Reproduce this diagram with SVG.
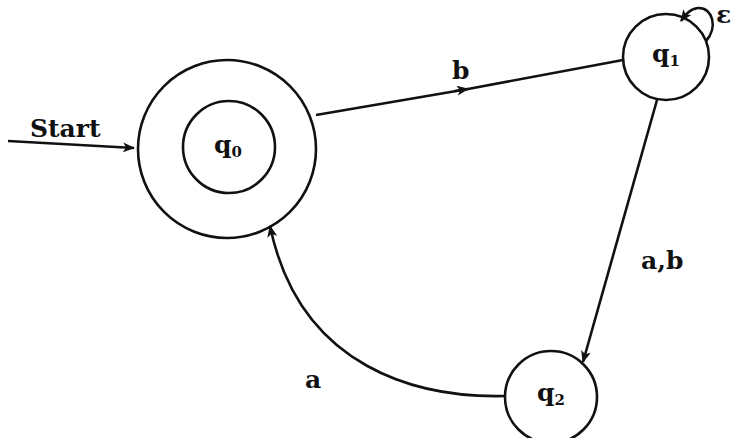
<svg xmlns="http://www.w3.org/2000/svg" width="734" height="438" viewBox="0 0 734 438">
<defs>
<style>
.st{fill:none;stroke:#111;stroke-width:2.6}
.lb{font-family:"DejaVu Serif","Liberation Serif",serif;font-weight:bold;font-size:25px;fill:#111}
.sb{font-size:15px}
</style>
<marker id="ar" viewBox="0 0 12 10" refX="11" refY="5" markerWidth="12" markerHeight="10" markerUnits="userSpaceOnUse" orient="auto">
<path d="M0,0 L12,5 L0,10 L3,5 Z" fill="#111"/>
</marker>
</defs>
<rect width="734" height="438" fill="#fff"/>
<g id="connectors">
<path class="st" d="M8,141 L134,148" marker-end="url(#ar)"/>
<path class="st" d="M316,115 L468,89"/>
<path class="st" d="M455,91 L468,89" marker-end="url(#ar)"/>
<path class="st" d="M468,89 L623,60"/>
<path class="st" d="M706,41 C718,28 713,7 698,8 C690,9 686,14 681,21" marker-end="url(#ar)"/>
<path class="st" d="M657,100 L583,362" marker-end="url(#ar)"/>
<path class="st" d="M505,396 C420,398 300,370 270,226" marker-end="url(#ar)"/>
</g>
<g id="start"><text class="lb" x="30" y="137">Start</text></g>
<g id="q0">
<circle class="st" cx="227" cy="149" r="89"/>
<circle class="st" cx="229" cy="147" r="46"/>
<text class="lb" x="214" y="153">q<tspan class="sb" dy="4">0</tspan></text>
</g>
<g id="q1">
<circle class="st" cx="666" cy="57" r="43"/>
<text class="lb" x="652" y="62">q<tspan class="sb" dy="4">1</tspan></text>
</g>
<g id="q2">
<circle class="st" cx="551" cy="397" r="46"/>
<text class="lb" x="537" y="401">q<tspan class="sb" dy="4">2</tspan></text>
</g>
<g id="labels">
<text class="lb" x="716" y="23" font-size="20">ε</text>
<text class="lb" x="452" y="79">b</text>
<text class="lb" x="641" y="269">a,b</text>
<text class="lb" x="305" y="388">a</text>
</g>
</svg>
